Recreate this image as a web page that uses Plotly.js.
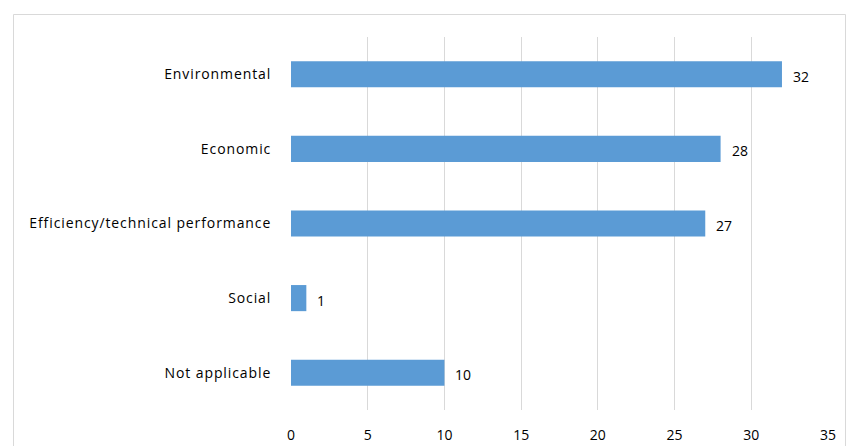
<!DOCTYPE html>
<html>
<head>
<meta charset="utf-8">
<script src="https://cdn.plot.ly/plotly-3.0.1.min.js"></script>
<style>
html,body{margin:0;padding:0;background:#fff;}
#chart{width:846px;height:446px;}
#chart .ytick text{letter-spacing:0.9px;}
</style>
</head>
<body>
<div id="chart"></div>
<script>
const categories = ["Environmental", "Economic", "Efficiency/technical performance", "Social", "Not applicable"];
const values = [32, 28, 27, 1, 10];
const xTicks = [0, 5, 10, 15, 20, 25, 30, 35];

const cats = categories.slice().reverse();
const vals = values.slice().reverse();
const FONT = "Open Sans, Liberation Sans, Arial, sans-serif";

const trace = {
  type: "bar",
  orientation: "h",
  y: cats,
  x: vals,
  marker: {color: "#5B9BD5"},
  hoverinfo: "none"
};

const annotations = cats.map((c, i) => ({
  x: vals[i], y: c, xref: "x", yref: "y",
  text: String(vals[i]), showarrow: false,
  xanchor: "left", yanchor: "middle", xshift: 9, yshift: -2,
  font: {family: FONT, size: 14, color: "#000"}
}));

const L = 291, R = 828, T = 37, B = 410;
const W = R - L, H = B - T;
const layout = {
  width: 846, height: 446,
  margin: {l: L, r: 846 - R, t: T, b: 446 - B},
  paper_bgcolor: "#fff", plot_bgcolor: "#fff",
  bargap: 0.65,
  showlegend: false,
  font: {family: FONT, size: 14, color: "#000"},
  xaxis: {
    range: [0, 35], tickvals: xTicks, ticktext: xTicks.map(String),
    showgrid: true, gridcolor: "#d9d9d9", gridwidth: 1,
    zeroline: false, showline: false, ticks: "outside", ticklen: 12, tickcolor: "rgba(0,0,0,0)",
    tickfont: {family: FONT, size: 14, color: "#000"}
  },
  yaxis: {
    showgrid: false, zeroline: false, showline: false, ticks: "outside", ticklen: 16, tickcolor: "rgba(0,0,0,0)",
    tickfont: {family: FONT, size: 14, color: "#000"}, automargin: false
  },
  annotations: annotations,
  shapes: [{
    type: "rect", xref: "paper", yref: "paper",
    x0: (13.5 - L) / W, x1: (845.5 - L) / W,
    y0: -0.3, y1: 1 + (T - 14.5) / H,
    line: {color: "#d9d9d9", width: 1}, fillcolor: "rgba(0,0,0,0)", layer: "below"
  }]
};

Plotly.newPlot("chart", [trace], layout, {staticPlot: true, displayModeBar: false});
</script>
</body>
</html>
